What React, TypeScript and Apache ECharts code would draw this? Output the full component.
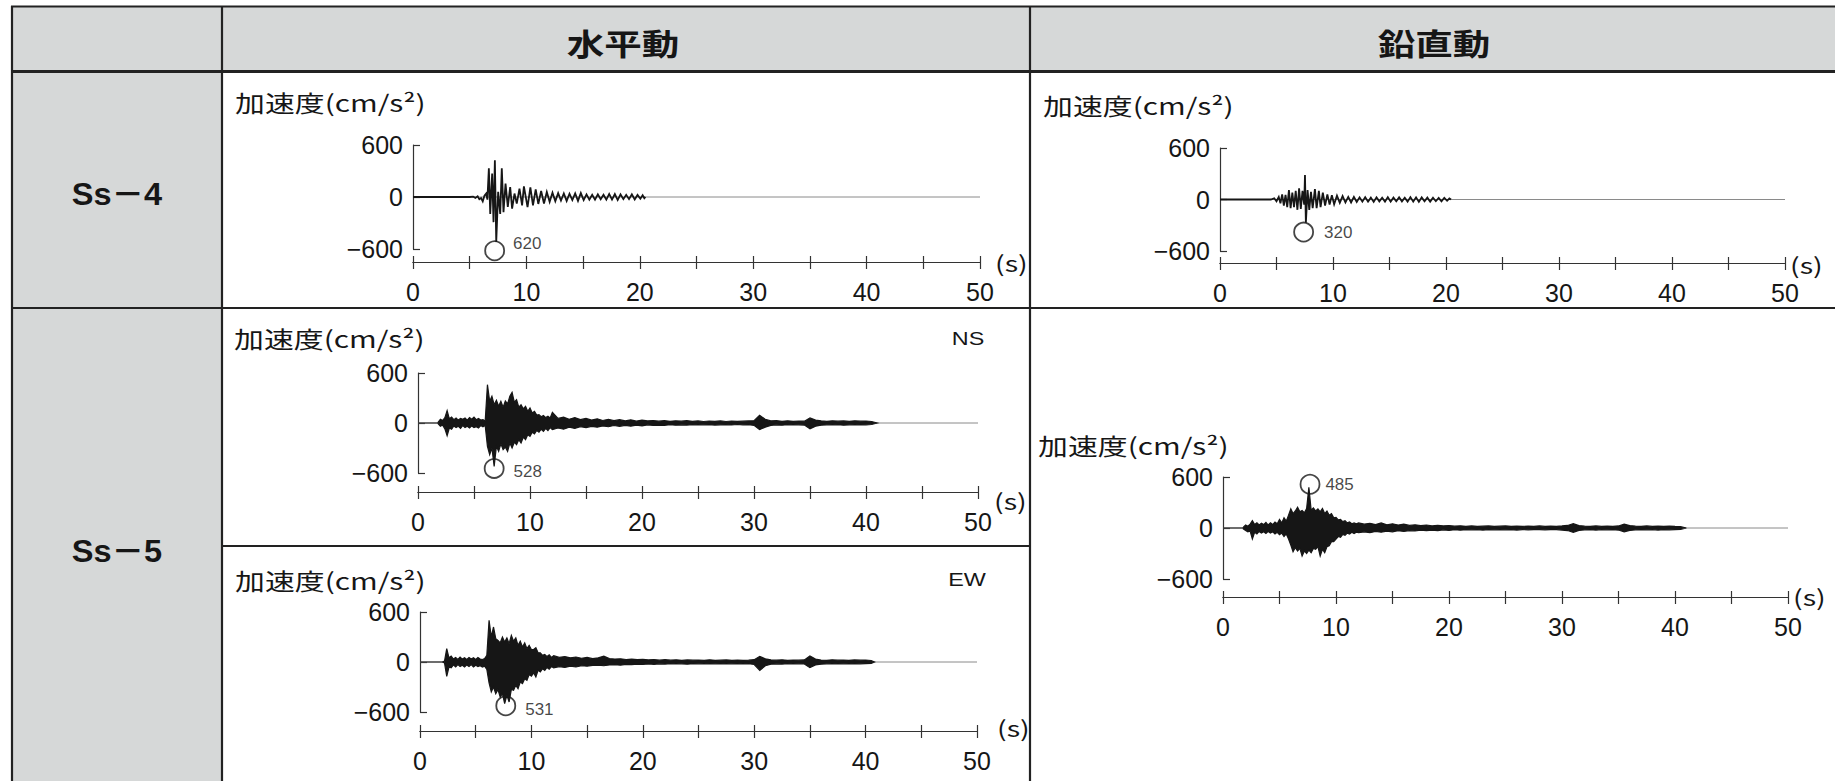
import React, { useEffect, useRef } from "react";
import * as echarts from "echarts";

// ---------- tick labels ----------
const X_LABELS = [0, 10, 20, 30, 40, 50];
const Y_LABELS = [-600, 0, 600];

// ---------- table texts ----------
const COL_HEADERS = ["水平動", "鉛直動"];
const ROW_HEADERS = ["Ss－4", "Ss－5"];
const AXIS_TITLE = "加速度(cm/s²)";
const UNIT_TEXT = "(s)";

// ---------- Ss-4 : peaks / troughs [time s, acc cm/s2] ----------
const SS4_H: [number, number][] = [
  [0, 0], [5.0, 0], [5.3, 5], [5.5, -10], [5.7, 8], [5.85, -25], [6.0, -12], [6.15, -50], [6.3, 15],
  [6.45, 40], [6.56, -30], [6.69, 330], [6.81, -195], [6.98, 270], [7.1, -290], [7.22, 425], [7.34, -520],
  [7.51, 60], [7.69, -195], [7.83, 330], [7.98, -175], [8.16, 155], [8.36, -115], [8.57, 115], [8.74, -135],
  [8.95, 40], [9.15, -77], [9.39, 97], [9.62, -97], [9.78, 122], [10.1, -116], [10.35, 110], [10.58, -97],
  [10.82, 88], [11.05, -80], [11.3, 70], [11.55, -75], [11.8, 58], [12.05, -55], [12.3, 50], [12.55, -48],
  [12.8, 45], [13.05, -40], [13.3, 40], [13.55, -45], [13.8, 38], [14.05, -35], [14.3, 42], [14.55, -45],
  [14.8, 45], [15.05, -35], [15.3, 30], [15.55, -30], [15.8, 26], [16.05, -30], [16.3, 30], [16.55, -25],
  [16.8, 26], [17.05, -30], [17.3, 35], [17.55, -30], [17.8, 34], [18.05, -35], [18.3, 30], [18.55, -25],
  [18.8, 25], [19.05, -25], [19.3, 30], [19.55, -28], [19.8, 24], [20.05, -20], [20.25, 20], [20.4, -15],
  [20.5, 0],
];

const SS4_V: [number, number][] = [
  [0, 0], [4.5, 0], [4.8, 15], [5.0, -20], [5.2, 30], [5.35, -45], [5.5, 60], [5.65, -70], [5.8, 55],
  [5.95, -90], [6.1, 110], [6.25, -100], [6.4, 80], [6.55, -90], [6.7, 100], [6.85, -120], [7.0, 130],
  [7.15, -110], [7.3, 100], [7.45, -60], [7.52, 284], [7.6, -270], [7.75, 110], [7.9, -120], [8.05, 90],
  [8.2, -100], [8.4, 120], [8.55, -100], [8.75, 100], [8.9, -90], [9.1, 80], [9.3, -70], [9.5, 60],
  [9.7, -60], [9.9, 50], [10.1, -55], [10.35, 45], [10.6, -40], [10.85, 40], [11.1, -35], [11.35, 30],
  [11.6, -35], [11.85, 30], [12.1, -28], [12.35, 25], [12.6, -25], [12.85, 28], [13.1, -25], [13.35, 22],
  [13.6, -28], [13.85, 25], [14.1, -22], [14.35, 20], [14.6, -25], [14.85, 28], [15.1, -25], [15.35, 22],
  [15.6, -20], [15.85, 25], [16.1, -22], [16.35, 20], [16.6, -25], [16.85, 28], [17.1, -25], [17.35, 25],
  [17.6, -28], [17.85, 25], [18.1, -20], [18.35, 22], [18.6, -25], [18.85, 20], [19.1, -20], [19.35, 18],
  [19.6, -22], [19.85, 20], [20.1, -15], [20.3, 12], [20.45, 0],
];

// ---------- Ss-5 : max / min envelope per time bin ----------
// bins of segment 1 start at 1.8 s every 0.2 s; segment 2 starts at 12.0 s every 0.5 s
const SEG1_T0 = 1.8;
const SEG1_DT = 0.2;
const SEG2_T0 = 12.0;
const SEG2_DT = 0.5;

const NS_HI_1 = [10, 45, 30, 65, 148, 50, 70, 40, 60, 35, 55, 45, 60, 35, 65, 45, 70, 40, 55, 35, 40, 25, 460, 260, 320, 220, 272, 200, 260, 190, 265, 230, 320, 368, 250, 280, 190, 220, 170, 200, 140, 180, 120, 140, 95, 100, 75, 90, 65, 80, 60];
const NS_LO_1 = [-10, -40, -25, -70, -152, -60, -75, -35, -55, -40, -65, -30, -55, -40, -60, -35, -55, -45, -60, -30, -45, -30, -280, -380, -300, -520, -280, -340, -250, -320, -290, -340, -240, -300, -230, -260, -200, -240, -170, -200, -140, -160, -110, -130, -90, -110, -75, -100, -65, -90, -55];
const NS_HI_2 = [128, 55, 70, 45, 65, 40, 55, 35, 50, 30, 45, 28, 40, 25, 38, 22, 35, 25, 30, 22, 28, 20, 26, 22, 28, 20, 25, 18, 24, 20, 25, 18, 24, 20, 22, 25, 28, 92, 45, 25, 28, 20, 26, 20, 24, 22, 60, 35, 25, 20, 26, 22, 25, 20, 26, 22, 24, 18];
const NS_LO_2 = [-80, -60, -75, -50, -65, -45, -55, -40, -50, -35, -45, -30, -40, -28, -38, -25, -35, -22, -30, -25, -28, -20, -26, -22, -25, -20, -24, -22, -20, -25, -22, -20, -24, -18, -22, -20, -28, -80, -50, -28, -22, -26, -20, -24, -22, -25, -70, -38, -26, -22, -24, -20, -26, -22, -24, -20, -22, -18];
const NS_END = 41.0;

const EW_HI_1 = [0, 0, 10, 160, 50, 70, 35, 55, 30, 60, 35, 50, 30, 55, 35, 50, 30, 55, 35, 30, 40, 80, 500, 300, 420, 280, 260, 230, 300, 240, 290, 220, 320, 250, 290, 200, 250, 180, 230, 160, 200, 150, 150, 172, 110, 110, 80, 90, 65, 85, 55];
const EW_LO_1 = [0, 0, -10, -172, -60, -70, -35, -60, -30, -55, -40, -60, -35, -55, -30, -60, -40, -55, -45, -60, -50, -90, -250, -360, -300, -380, -330, -420, -380, -500, -400, -480, -330, -340, -280, -320, -240, -260, -200, -220, -150, -170, -130, -180, -100, -120, -80, -100, -65, -85, -55];
const EW_HI_2 = [75, 55, 65, 50, 60, 45, 55, 40, 50, 70, 40, 35, 38, 30, 35, 28, 32, 25, 30, 22, 28, 22, 26, 20, 25, 22, 24, 20, 26, 20, 22, 25, 20, 24, 20, 22, 28, 68, 38, 25, 22, 26, 20, 24, 22, 25, 72, 35, 24, 20, 26, 22, 24, 20, 25, 22, 24, 18];
const EW_LO_2 = [-70, -55, -65, -50, -60, -45, -50, -40, -38, -45, -35, -32, -38, -28, -32, -25, -30, -24, -28, -22, -25, -20, -24, -22, -26, -20, -22, -24, -20, -22, -20, -24, -22, -20, -24, -20, -30, -100, -45, -26, -22, -25, -20, -24, -22, -24, -68, -35, -26, -22, -24, -20, -22, -24, -20, -22, -20, -18];
const EW_END = 40.8;

const UD_HI_1 = [10, 35, 20, 45, 87, 40, 60, 35, 55, 40, 65, 35, 60, 40, 70, 50, 100, 60, 120, 80, 150, 225, 170, 200, 245, 190, 205, 180, 230, 480, 210, 237, 200, 225, 190, 230, 170, 200, 150, 170, 120, 126, 95, 100, 75, 85, 60, 70, 50, 60, 50];
const UD_LO_1 = [-10, -30, -45, -35, -130, -50, -70, -40, -60, -45, -65, -40, -60, -45, -70, -50, -80, -60, -100, -70, -130, -200, -280, -230, -270, -240, -330, -270, -300, -260, -290, -240, -250, -220, -330, -250, -290, -220, -210, -160, -160, -130, -100, -110, -75, -85, -60, -70, -50, -65, -50];
const UD_HI_2 = [60, 45, 55, 40, 60, 38, 50, 35, 45, 30, 38, 28, 35, 25, 32, 24, 28, 22, 26, 20, 24, 20, 22, 25, 20, 22, 24, 20, 22, 18, 22, 20, 24, 18, 22, 20, 24, 30, 50, 28, 22, 20, 24, 18, 22, 20, 24, 45, 28, 22, 20, 24, 18, 22, 20, 22, 18, 16];
const UD_LO_2 = [-55, -45, -55, -40, -50, -38, -45, -32, -40, -30, -35, -26, -32, -24, -30, -22, -28, -20, -25, -20, -22, -20, -24, -20, -22, -18, -22, -20, -24, -18, -22, -20, -18, -22, -20, -18, -24, -30, -50, -28, -22, -20, -24, -18, -22, -20, -24, -45, -28, -22, -20, -22, -18, -24, -20, -22, -18, -16];
const UD_END = 41.0;

// ---------- peak marks [time s, position cm/s2] and peak values ----------
const PEAK_POS: [number, number][] = [[7.2, -620], [7.4, -380], [6.8, -545], [7.7, -525], [7.7, 515]];
const PEAK_VALUES = [620, 320, 528, 531, 485];
const COMPONENTS = ["", "", "NS", "EW", ""];

// ---------- layout (pixels) ----------
const W = 1835;
const H = 781;
const PANELS = [
  { grid: { left: 413, top: 145, width: 567, height: 104 }, off: 13, title: [235, 102], unit: [995, 262], comp: [0, 0], lbl: { d: 8, dy: -7 } },
  { grid: { left: 1220, top: 148, width: 565, height: 103 }, off: 12, title: [1043, 105], unit: [1790, 264], comp: [0, 0], lbl: { d: 10, dy: 0 } },
  { grid: { left: 418, top: 373, width: 560, height: 100 }, off: 19, title: [234, 338], unit: [994, 500], comp: [968, 339], lbl: { d: 9, dy: 3 } },
  { grid: { left: 420, top: 612, width: 557, height: 100 }, off: 19, title: [235, 580], unit: [997, 727], comp: [967, 580], lbl: { d: 9, dy: 4 } },
  { grid: { left: 1223, top: 477, width: 565, height: 102 }, off: 18, title: [1038, 445], unit: [1793, 596], comp: [0, 0], lbl: { d: 5, dy: 0 } },
];

const FONT_NUM = "'Liberation Sans', Arial, sans-serif";
const FONT_JP = "'Noto Sans CJK JP', 'Noto Sans CJK SC', sans-serif";
const INK = "#161616";
const GRAY_BG = "#d6d8d8";

type Env = { up: [number, number][]; lo: [number, number][] };

function envelope(end: number, hi1: number[], lo1: number[], hi2: number[], lo2: number[]): Env {
  const up: [number, number][] = [[0, 0], [SEG1_T0, 0]];
  const lo: [number, number][] = [[0, 0], [SEG1_T0, 0]];
  hi1.forEach((h, i) => {
    const t = +(SEG1_T0 + i * SEG1_DT).toFixed(2);
    up.push([t, h]);
    lo.push([t, lo1[i]]);
  });
  hi2.forEach((h, i) => {
    const t = +(SEG2_T0 + i * SEG2_DT).toFixed(2);
    if (t < end) {
      up.push([t, h]);
      lo.push([t, lo2[i]]);
    }
  });
  up.push([end, 0]);
  lo.push([end, 0]);
  return { up, lo };
}

function buildOption() {
  const traces: [number, number][][] = [SS4_H, SS4_V];
  const envs: Env[] = [
    envelope(NS_END, NS_HI_1, NS_LO_1, NS_HI_2, NS_LO_2),
    envelope(EW_END, EW_HI_1, EW_LO_1, EW_HI_2, EW_LO_2),
    envelope(UD_END, UD_HI_1, UD_LO_1, UD_HI_2, UD_LO_2),
  ];

  const grid: any[] = [];
  const xAxis: any[] = [];
  const yAxis: any[] = [];
  const series: any[] = [];
  const axisLineStyle = { color: "#333", width: 1.2 };

  PANELS.forEach((p, k) => {
    grid.push({ ...p.grid, containLabel: false, outerBoundsMode: "none" });
    const xBase = {
      gridIndex: k, type: "value", min: 0, max: 50, interval: 5, position: "bottom", offset: p.off,
      axisLine: { show: true, onZero: false, lineStyle: axisLineStyle },
      splitLine: { show: false },
    };
    xAxis.push({
      ...xBase,
      axisTick: { show: true, inside: false, length: 7, lineStyle: axisLineStyle },
      axisLabel: {
        show: true, margin: 17, fontSize: 25, fontFamily: FONT_NUM, color: INK,
        showMinLabel: true, showMaxLabel: true,
        formatter: (v: number) => (X_LABELS.includes(v) ? String(v) : ""),
      },
    });
    xAxis.push({
      ...xBase,
      axisTick: { show: true, inside: true, length: 6, lineStyle: axisLineStyle },
      axisLabel: { show: false },
    });
    yAxis.push({
      gridIndex: k, type: "value", min: -600, max: 600, interval: 600, position: "left",
      axisLine: { show: true, onZero: false, lineStyle: axisLineStyle },
      axisTick: { show: true, inside: true, length: 7, lineStyle: axisLineStyle },
      splitLine: { show: false },
      axisLabel: {
        margin: 10, fontSize: 25, fontFamily: FONT_NUM, color: INK,
        formatter: (v: number) => (Y_LABELS.includes(v) ? (v < 0 ? "\u2212" + Math.abs(v) : String(v)) : ""),
      },
    });
    // zero line over the whole time range
    series.push({
      type: "line", xAxisIndex: 2 * k, yAxisIndex: k, data: [[0, 0], [50, 0]],
      symbol: "none", silent: true, z: 1, lineStyle: { color: "#8a8a8a", width: 1 },
    });
    if (k < 2) {
      series.push({
        type: "line", xAxisIndex: 2 * k, yAxisIndex: k, data: traces[k],
        symbol: "none", silent: true, z: 2, clip: false,
        lineStyle: { color: INK, width: 1.8, join: "miter" },
      });
    } else {
      const env = envs[k - 2];
      series.push({
        type: "custom", xAxisIndex: 2 * k, yAxisIndex: k, silent: true, z: 2, clip: false,
        data: env.up,
        encode: { x: 0, y: 1 },
        renderItem: (params: any, api: any) => {
          if (params.dataIndex !== 0) return null;
          const top = env.up.map((d) => api.coord(d));
          const bottom = env.lo.map((d) => api.coord(d)).reverse();
          return {
            type: "polygon",
            shape: { points: top.concat(bottom) },
            style: { fill: INK, stroke: INK, lineWidth: 1.2, lineJoin: "miter" },
          };
        },
      });
    }
    series.push({
      type: "scatter", xAxisIndex: 2 * k, yAxisIndex: k, data: [PEAK_POS[k]],
      symbol: "circle", symbolSize: 19, clip: false, silent: true, z: 3,
      itemStyle: { color: "rgba(0,0,0,0)", borderColor: INK, borderWidth: 1.8 },
      label: {
        show: true, position: "right", distance: p.lbl.d, offset: [0, p.lbl.dy],
        formatter: () => String(PEAK_VALUES[k]),
        fontSize: 17, fontFamily: FONT_NUM, color: INK,
      },
    });
  });

  const line = (x1: number, y1: number, x2: number, y2: number, w = 2.2) => ({
    type: "line", silent: true, z: 10,
    shape: { x1, y1, x2, y2 },
    style: { stroke: "#222", lineWidth: w },
  });
  const text = (t: string, x: number, y: number, size: number, family: string, align: string, sx: number, weight = "normal") => ({
    type: "text", x, y, scaleX: sx, silent: true, z: 10,
    style: {
      text: t, fontSize: size, fontFamily: family, fontWeight: weight, fill: INK,
      align, verticalAlign: "middle", textAlign: align, textVerticalAlign: "middle",
    },
  });

  const graphic: any[] = [
    { type: "rect", silent: true, z: -5, shape: { x: 12, y: 6, width: W, height: 65 }, style: { fill: GRAY_BG } },
    { type: "rect", silent: true, z: -5, shape: { x: 12, y: 71, width: 210, height: H }, style: { fill: GRAY_BG } },
    line(11, 6.5, W, 6.5),
    line(12, 6, 12, H),
    line(12, 71.5, W, 71.5, 3),
    line(222, 6, 222, H),
    line(1030, 6, 1030, H),
    line(12, 308, W, 308),
    line(222, 546, 1030, 546),
    text(COL_HEADERS[0], 623, 42, 30, FONT_JP, "center", 1.25, "bold"),
    text(COL_HEADERS[1], 1434, 42, 30, FONT_JP, "center", 1.25, "bold"),
    text(ROW_HEADERS[0], 117, 194, 31, FONT_NUM + ", " + FONT_JP, "center", 1.05, "bold"),
    text(ROW_HEADERS[1], 117, 551, 31, FONT_NUM + ", " + FONT_JP, "center", 1.05, "bold"),
  ];
  PANELS.forEach((p, k) => {
    graphic.push(text(AXIS_TITLE, p.title[0], p.title[1], 23, FONT_JP, "left", 1.3));
    graphic.push(text(UNIT_TEXT, p.unit[0], p.unit[1], 22, FONT_JP, "left", 1.3));
    if (COMPONENTS[k]) graphic.push(text(COMPONENTS[k], p.comp[0], p.comp[1], 18, FONT_NUM, "center", 1.3));
  });

  return { animation: false, backgroundColor: "#ffffff", grid, xAxis, yAxis, series, graphic };
}

export default function App() {
  const ref = useRef<HTMLDivElement>(null);
  useEffect(() => {
    if (!ref.current) return;
    const chart = echarts.init(ref.current, null, { renderer: "svg", width: W, height: H });
    chart.setOption(buildOption() as any);
    return () => chart.dispose();
  }, []);
  return (
    <div
      ref={ref}
      style={{ position: "absolute", left: 0, top: 0, width: W, height: H, background: "#fff" }}
    />
  );
}
